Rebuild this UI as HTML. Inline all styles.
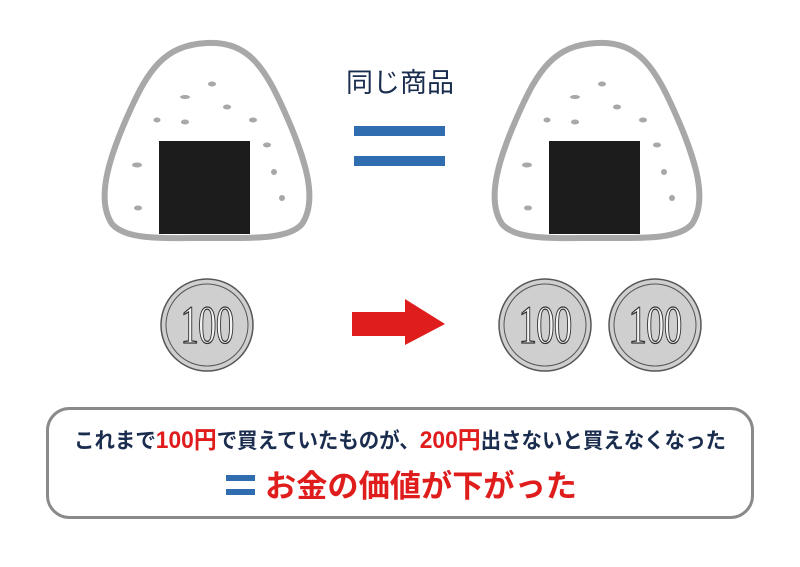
<!DOCTYPE html>
<html><head><meta charset="utf-8"><style>
body{margin:0;background:#fff;width:800px;height:562px;overflow:hidden;font-family:"Liberation Sans","Noto Sans CJK JP",sans-serif}
</style></head><body>
<svg width="800" height="562" viewBox="0 0 800 562" xmlns="http://www.w3.org/2000/svg">
<defs>
<g id="oni">
<path d="M207,43 C250,41 266,70 286,115 C306,160 318,200 302,224 C288,240 250,238 207,238 C160,238 126,240 112,224 C96,200 108,160 128,115 C148,70 164,45 207,43 Z" fill="#fff" stroke="#a8a8a8" stroke-width="6" stroke-linejoin="round"/>
<path d="M250,55 C272,80 292,125 305,170" fill="none" stroke="#a8a8a8" stroke-width="4"/>
<g fill="#a8a8a8">
<ellipse cx="212" cy="84" rx="4" ry="2.5"/><ellipse cx="185" cy="97" rx="5" ry="2"/>
<ellipse cx="227" cy="107" rx="4" ry="2.5"/><ellipse cx="157" cy="120" rx="3.5" ry="2.5"/>
<ellipse cx="185" cy="122" rx="4" ry="2.5"/><ellipse cx="253" cy="120" rx="4" ry="2.5"/>
<ellipse cx="267" cy="145" rx="4" ry="2.5"/><ellipse cx="137" cy="165" rx="5" ry="2.5"/>
<ellipse cx="274" cy="172" rx="3" ry="3"/><ellipse cx="282" cy="198" rx="3" ry="3"/>
<ellipse cx="138" cy="208" rx="4" ry="2.5"/>
</g>
<rect x="159" y="141" width="91" height="93" fill="#1c1c1c"/>
</g>
<g id="coin">
<circle r="46" fill="#cfcfcf" stroke="#555" stroke-width="1.5"/>
<circle r="41" fill="none" stroke="#555" stroke-width="1"/>
<text y="18" text-anchor="middle" font-family="Liberation Serif,serif" font-size="54" fill="#f2f2f2" stroke="#333" stroke-width="1.3" transform="scale(0.68,1)" letter-spacing="-1">100</text>
</g>
</defs>
<use href="#oni"/>
<use href="#oni" x="390"/>
<text x="400" y="92" text-anchor="middle" font-size="27" fill="#1b2d4f">同じ商品</text>
<rect x="354" y="126" width="91" height="10" fill="#2f6db0"/>
<rect x="354" y="156" width="91" height="10" fill="#2f6db0"/>
<use href="#coin" x="207" y="325"/>
<use href="#coin" x="545" y="325"/>
<use href="#coin" x="655" y="325"/>
<path d="M352,312 H405 V299 L445,324 L405,345 V336 H352 Z" fill="#e01d1d"/>
<rect x="47.5" y="408.5" width="705" height="109" rx="22" fill="#fff" stroke="#8a8a8a" stroke-width="3"/>
<text x="400" y="448" text-anchor="middle" font-size="21.5" font-weight="bold" fill="#1b2d4f" textLength="652" lengthAdjust="spacingAndGlyphs">これまで<tspan fill="#e01d1d" font-size="24">100円</tspan>で買えていたものが、<tspan fill="#e01d1d" font-size="24">200円</tspan>出さないと買えなくなった</text>
<rect x="226" y="475" width="29" height="6" fill="#2f6db0"/>
<rect x="226" y="489" width="29" height="6" fill="#2f6db0"/>
<text x="265" y="497" font-size="31" font-weight="bold" fill="#e01d1d" textLength="312" lengthAdjust="spacingAndGlyphs">お金の価値が下がった</text>
</svg>
</body></html>
